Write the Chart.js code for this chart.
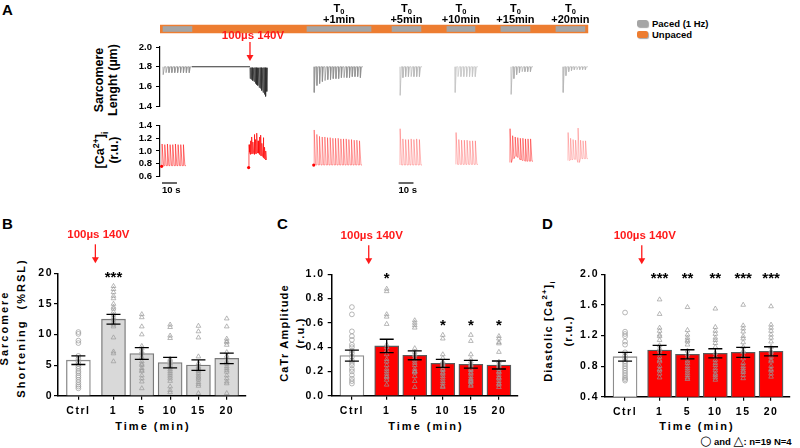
<!DOCTYPE html>
<html lang="en">
<head>
    <title>Sarcomere shortening and Ca transients after a 100µs 140V pulse</title>
    <meta charset="UTF-8">
    <script src="https://cdn.jsdelivr.net/npm/chart.js"></script>
    <style>
        body { margin: 0; width: 800px; height: 448px; position: relative; overflow: hidden; background: #fff;
               font-family: "Liberation Sans", Arial, sans-serif; font-weight: bold; color: #000; }
        canvas, .lbl, .key { position: absolute; }
        .lbl { white-space: nowrap; line-height: 1; }
        .rot { transform: translate(-50%, -50%) rotate(-90deg); text-align: center; }
        .key { width: 11px; height: 7px; border-radius: 2px; box-shadow: 1px 1px 1px rgba(0,0,0,0.35); }
        .panel { font-size: 15px; }
        .time { font-size: 11px; letter-spacing: 2px; transform: translateX(-50%); }
        sub, sup { font-size: 70%; line-height: 0; }
    </style>
</head>
<body>
    <!-- panel letters -->
    <div class="lbl panel" style="left:2px;top:2px">A</div>
    <div class="lbl panel" style="left:2px;top:216px">B</div>
    <div class="lbl panel" style="left:277px;top:216px">C</div>
    <div class="lbl panel" style="left:542px;top:216px">D</div>

    <!-- legend of the protocol bar -->
    <div class="key" style="left:637px;top:20px;background:#a5a5a5"></div>
    <div class="lbl" style="left:652px;top:19px;font-size:9.5px">Paced (1 Hz)</div>
    <div class="key" style="left:637px;top:31px;background:#ed7d31"></div>
    <div class="lbl" style="left:652px;top:30px;font-size:9.5px">Unpaced</div>

    <!-- y titles, panel A -->
    <div class="lbl rot" style="left:106px;top:80px;font-size:12.5px;line-height:14px">Sarcomere<br>Lenght (µm)</div>
    <div class="lbl rot" style="left:107px;top:150px;font-size:12.5px;line-height:14px">[Ca<sup>2+</sup>]<sub>i</sub><br>(r.u.)</div>

    <!-- y titles, panels B-D -->
    <div class="lbl rot" style="left:13px;top:328px;font-size:11px;line-height:17px;letter-spacing:2px">Sarcomere<br>Shortening&nbsp; (%RSL)</div>
    <div class="lbl rot" style="left:292px;top:333px;font-size:11px;line-height:16px;letter-spacing:1.2px">CaTr Amplitude<br>(r.u.)</div>
    <div class="lbl rot" style="left:558px;top:331px;font-size:11px;line-height:20px;letter-spacing:1.2px">Diastolic [Ca<sup>2+</sup>]<sub>i</sub><br>(r.u.)</div>

    <div class="lbl time" style="left:153px;top:421px">Time (min)</div>
    <div class="lbl time" style="left:426px;top:421px">Time (min)</div>
    <div class="lbl time" style="left:697px;top:421px">Time (min)</div>

    <div class="lbl" style="left:700px;top:434px;font-size:9.5px"><span style="font-family:'DejaVu Sans';font-weight:normal;font-size:13px">○</span> and <span style="font-family:'DejaVu Sans';font-weight:normal;font-size:13px">△</span>: n=19 N=4</div>

    <canvas id="protocol" width="490" height="40" style="left:110px;top:0px"></canvas>
    <canvas id="slTrace" width="490" height="88" style="left:110px;top:28px"></canvas>
    <canvas id="caTrace" width="490" height="88" style="left:110px;top:112px"></canvas>
    <canvas id="shortChart" width="222" height="205" style="left:30px;top:215px"></canvas>
    <canvas id="ampChart" width="238" height="205" style="left:286px;top:215px"></canvas>
    <canvas id="diaChart" width="236" height="205" style="left:562px;top:215px"></canvas>

    <script>
        // ---- panel A: protocol (seconds on the trace time axis) ----
        const traceSpan = 286.7;
        const unpacedSpan = [0, 285.3];
        const pacedStart = [2.0, 98.0, 154.7, 191.3, 227.3, 264.0];
        const pacedEnd = [21.3, 140.7, 174.0, 210.0, 246.7, 283.3];
        const pacedLabels = ['', '+1min', '+5min', '+10min', '+15min', '+20min'];
        const pulseTime = 60;
        const scaleBarStart = [1.3, 159.0];
        const scaleBarLen = 10;

        // ---- panel A: sarcomere length traces (µm), one dip per twitch ----
        const slTicks = [1.4, 1.6, 1.8, 2.0];
        const slStart = [2.0, 60.0, 102.7, 160.0, 196.7, 234.0, 268.7];
        const slEnd = [21.3, 72.0, 135.3, 174.7, 212.0, 248.7, 285.3];
        const slRest = [[1.80], [1.79], [1.80], [1.80], [1.80], [1.80], [1.80]];
        const slQuiet = [21.3, 60.0, 1.80];
        const slDips = [
            [1.72, 1.74, 1.74, 1.74, 1.74, 1.74, 1.74, 1.74, 1.74, 1.74],
            [1.68, 1.67, 1.66, 1.65, 1.63, 1.62, 1.61, 1.59, 1.58, 1.56, 1.54, 1.52, 1.50, 1.55],
            [1.54, 1.61, 1.63, 1.65, 1.66, 1.67, 1.67, 1.68, 1.68, 1.68, 1.69, 1.69, 1.69, 1.69, 1.70, 1.70, 1.70, 1.69],
            [1.51, 1.69, 1.70, 1.70, 1.70, 1.70, 1.70, 1.70],
            [1.54, 1.70, 1.70, 1.70, 1.70, 1.70, 1.70, 1.70],
            [1.52, 1.68, 1.72, 1.74, 1.75, 1.75, 1.75, 1.75],
            [1.54, 1.71, 1.75, 1.76, 1.77, 1.77, 1.77, 1.77, 1.77]
        ];

        // ---- panel A: [Ca2+]i traces (r.u.), one peak per twitch ----
        const caTicks = [0.6, 0.8, 1.0, 1.2, 1.4];
        const caStart = [1.3, 59.3, 102.7, 160.0, 197.3, 233.3, 272.0];
        const caEnd = [17.3, 71.3, 134.7, 174.7, 212.0, 248.7, 285.3];
        const caFirst = [0.76, 0.74, 0.78, null, null, null, null];
        const caBase = [
            [0.77],
            [0.98, 0.95, 0.96, 0.97, 0.95, 0.96, 0.98, 0.97, 0.95, 0.93, 0.92, 0.90, 0.88, 0.86],
            [0.78],
            [0.78],
            [0.79],
            [0.82, 0.88, 0.92, 0.90, 0.86, 0.85, 0.84, 0.84, 0.84],
            [0.85, 0.86, 0.87, 0.87, 0.82, 0.88, 0.88, 0.88]
        ];
        const caPeaks = [
            [1.11, 1.10, 1.11, 1.10, 1.10, 1.11, 1.10, 1.10, 1.10],
            [1.10, 1.16, 1.22, 1.14, 1.26, 1.18, 1.28, 1.16, 1.22, 1.25, 1.12, 1.21, 1.06, 1.00],
            [1.33, 1.26, 1.23, 1.22, 1.22, 1.21, 1.21, 1.20, 1.20, 1.20, 1.19, 1.19, 1.19, 1.18, 1.18, 1.17, 1.17, 1.16],
            [1.35, 1.19, 1.18, 1.18, 1.19, 1.18, 1.19, 1.18],
            [1.29, 1.18, 1.17, 1.17, 1.17, 1.16, 1.16, 1.16],
            [1.35, 1.24, 1.22, 1.21, 1.20, 1.20, 1.19, 1.19, 1.19],
            [1.29, 1.20, 1.18, 1.17, 1.36, 1.17, 1.16, 1.16]
        ];

        // ---- panels B-D ----
        const groupLabels = ['Ctrl', '1', '5', '10', '15', '20'];

        const shortMean = [5.8, 12.5, 6.9, 5.4, 5.0, 6.1];
        const shortSem = [0.7, 0.8, 0.95, 0.85, 0.85, 0.85];
        const shortPoints = [
            [10.4, 10.1, 9.0, 8.6, 6.5, 6.0, 5.6, 5.2, 4.8, 4.4, 4.0, 3.7, 3.3, 3.0, 2.6, 2.2, 1.8, 1.5, 1.2],
            [17.9, 17.4, 16.9, 16.3, 15.9, 15.0, 14.5, 14.2, 13.7, 13.2, 12.8, 12.4, 12.0, 11.6, 11.3, 9.5, 7.2, 6.9, 5.6],
            [13.3, 12.8, 11.3, 10.0, 8.1, 7.7, 7.2, 6.9, 6.3, 5.6, 5.2, 5.0, 4.5, 4.2, 4.0, 3.3, 2.8, 2.3, 1.2],
            [11.6, 11.2, 9.8, 9.4, 6.0, 5.8, 5.3, 5.0, 4.6, 4.3, 4.0, 3.7, 3.4, 3.1, 2.8, 2.4, 1.5, 0.9, 0.55],
            [11.4, 10.5, 9.5, 6.4, 5.3, 4.8, 4.6, 4.4, 4.2, 4.0, 3.7, 3.4, 3.1, 2.9, 2.6, 2.2, 1.9, 1.6, 0.4],
            [12.6, 11.3, 9.3, 8.9, 8.7, 8.3, 7.1, 6.5, 5.6, 5.2, 4.8, 4.5, 4.2, 3.9, 3.3, 2.8, 2.3, 2.0, 0.4]
        ];
        const shortStars = ['', '***', '', '', '', ''];
        const shortStarAt = [null, 20, null, null, null, null];

        const ampMean = [0.33, 0.41, 0.333, 0.267, 0.259, 0.253];
        const ampSem = [0.045, 0.055, 0.037, 0.033, 0.032, 0.033];
        const ampPoints = [
            [0.73, 0.67, 0.53, 0.49, 0.46, 0.42, 0.40, 0.37, 0.35, 0.32, 0.29, 0.27, 0.25, 0.22, 0.20, 0.17, 0.14, 0.12, 0.10],
            [0.88, 0.86, 0.67, 0.65, 0.59, 0.42, 0.40, 0.37, 0.34, 0.30, 0.28, 0.25, 0.22, 0.20, 0.18, 0.16, 0.15, 0.13, 0.09],
            [0.62, 0.60, 0.58, 0.56, 0.39, 0.36, 0.34, 0.33, 0.31, 0.29, 0.27, 0.25, 0.22, 0.20, 0.20, 0.19, 0.16, 0.12, 0.07],
            [0.50, 0.47, 0.34, 0.31, 0.28, 0.27, 0.26, 0.25, 0.24, 0.22, 0.21, 0.19, 0.18, 0.16, 0.14, 0.12, 0.10, 0.08, 0.07],
            [0.50, 0.45, 0.34, 0.30, 0.28, 0.26, 0.25, 0.24, 0.22, 0.21, 0.19, 0.18, 0.16, 0.14, 0.13, 0.12, 0.11, 0.09, 0.08],
            [0.49, 0.47, 0.44, 0.43, 0.36, 0.28, 0.26, 0.25, 0.24, 0.22, 0.20, 0.19, 0.17, 0.15, 0.14, 0.12, 0.10, 0.09, 0.07]
        ];
        const ampStars = ['', '*', '', '*', '*', '*'];
        const ampStarAt = [null, 1.0, null, 0.615, 0.615, 0.615];

        const diaMean = [0.923, 1.01, 0.954, 0.967, 0.98, 0.993];
        const diaSem = [0.057, 0.06, 0.06, 0.06, 0.065, 0.06];
        const diaPoints = [
            [1.50, 1.25, 1.22, 1.19, 1.12, 1.08, 0.98, 0.93, 0.90, 0.86, 0.83, 0.80, 0.77, 0.74, 0.71, 0.68, 0.65, 0.63, 0.61],
            [1.67, 1.48, 1.30, 1.26, 1.21, 1.19, 1.14, 1.07, 1.03, 1.00, 0.96, 0.92, 0.88, 0.86, 0.80, 0.76, 0.74, 0.70, 0.65],
            [1.57, 1.27, 1.21, 1.17, 1.14, 1.12, 1.08, 1.00, 0.95, 0.91, 0.87, 0.84, 0.80, 0.77, 0.74, 0.71, 0.68, 0.65, 0.63],
            [1.55, 1.31, 1.26, 1.22, 1.17, 1.14, 1.10, 1.05, 0.97, 0.93, 0.88, 0.84, 0.81, 0.77, 0.74, 0.70, 0.68, 0.65, 0.62],
            [1.60, 1.33, 1.29, 1.25, 1.19, 1.16, 1.11, 1.05, 1.00, 0.98, 0.93, 0.90, 0.84, 0.80, 0.77, 0.74, 0.72, 0.68, 0.64],
            [1.58, 1.34, 1.30, 1.26, 1.21, 1.17, 1.12, 1.05, 1.00, 0.98, 0.95, 0.92, 0.88, 0.86, 0.80, 0.76, 0.74, 0.70, 0.66]
        ];
        const diaStars = ['', '***', '**', '**', '***', '***'];
        const diaStarAt = [null, 2.0, 2.0, 2.0, 2.0, 2.0];

        const pulseLabel = '100µs 140V';
        const FONT = '"Liberation Sans", Arial, sans-serif';

        Chart.defaults.font.family = FONT;
        Chart.defaults.font.weight = 'bold';
        Chart.defaults.color = '#000';

        // red label with a down arrow, arrow tip at (x, tipY)
        function drawPulseArrow(ctx, x, textY, topY, tipY) {
            ctx.save();
            ctx.letterSpacing = '0px';
            ctx.fillStyle = '#ff1a1a';
            ctx.strokeStyle = '#ff1a1a';
            ctx.font = 'bold 11.5px ' + FONT;
            ctx.textAlign = 'center';
            ctx.textBaseline = 'middle';
            ctx.fillText(pulseLabel, x + 3, textY);
            ctx.lineWidth = 1.3;
            ctx.beginPath();
            ctx.moveTo(x, topY);
            ctx.lineTo(x, tipY - 5);
            ctx.stroke();
            ctx.beginPath();
            ctx.moveTo(x - 3.5, tipY - 6);
            ctx.lineTo(x + 3.5, tipY - 6);
            ctx.lineTo(x, tipY);
            ctx.closePath();
            ctx.fill();
            ctx.restore();
        }

        // ---------- protocol bar ----------
        const protocolDatasets = [{
            data: [unpacedSpan],
            backgroundColor: '#ed7d31',
            barThickness: 8,
            grouped: false,
            order: 2
        }].concat(pacedStart.map((s, i) => ({
            data: [[s, pacedEnd[i]]],
            backgroundColor: '#a5a5a5',
            barThickness: 5,
            grouped: false,
            order: 1
        })));

        new Chart(document.getElementById('protocol'), {
            type: 'bar',
            data: { labels: ['run'], datasets: protocolDatasets },
            options: {
                indexAxis: 'y',
                responsive: false,
                animation: false,
                layout: { padding: { top: 23, bottom: 5, left: 50, right: 10 } },
                plugins: { legend: { display: false }, tooltip: { enabled: false } },
                scales: {
                    x: { type: 'linear', display: false, min: 0, max: traceSpan },
                    y: { display: false }
                }
            },
            plugins: [{
                id: 'periodLabels',
                afterDraw(chart) {
                    const { ctx } = chart;
                    const x = chart.scales.x;
                    ctx.save();
                    ctx.fillStyle = '#000';
                    ctx.textBaseline = 'alphabetic';
                    pacedLabels.forEach((lab, i) => {
                        if (!lab) return;
                        const cx = x.getPixelForValue((pacedStart[i] + pacedEnd[i]) / 2);
                        ctx.font = 'bold 11px ' + FONT;
                        const wT = ctx.measureText('T').width;
                        ctx.font = 'bold 7.5px ' + FONT;
                        const w0 = ctx.measureText('0').width;
                        const left = cx - (wT + w0) / 2;
                        ctx.font = 'bold 11px ' + FONT;
                        ctx.textAlign = 'left';
                        ctx.fillText('T', left, 12);
                        ctx.font = 'bold 7.5px ' + FONT;
                        ctx.fillText('0', left + wT, 14);
                        ctx.font = 'bold 11px ' + FONT;
                        ctx.textAlign = 'center';
                        ctx.fillText(lab, cx, 23);
                    });
                    ctx.restore();
                }
            }]
        });

        // ---------- traces ----------
        function twitchTrace(t0, t1, rest, amp, upAt, downFrac) {
            const dt = (t1 - t0) / amp.length;
            const pts = [];
            amp.forEach((a, i) => {
                const t = t0 + i * dt;
                const b = rest[Math.min(i, rest.length - 1)];
                pts.push({ x: t, y: b }, { x: t + upAt, y: a }, { x: t + dt * downFrac, y: b });
            });
            pts.push({ x: t1, y: rest[rest.length - 1] });
            return pts;
        }

        function traceChart(id, datasets, ticks, padTop, padBottom, extra) {
            return new Chart(document.getElementById(id), {
                type: 'line',
                data: { datasets: datasets },
                options: {
                    responsive: false,
                    animation: false,
                    layout: { padding: { top: padTop, bottom: padBottom, left: 0, right: 10 } },
                    plugins: { legend: { display: false }, tooltip: { enabled: false } },
                    elements: { point: { radius: 0 }, line: { borderWidth: 0.7, tension: 0 } },
                    scales: {
                        x: { type: 'linear', display: false, min: 0, max: traceSpan },
                        y: {
                            min: ticks[0], max: ticks[ticks.length - 1],
                            afterFit: s => { s.width = 50; },
                            afterBuildTicks: s => { s.ticks = ticks.map(v => ({ value: v })); },
                            ticks: { autoSkip: false, padding: 4, font: { size: 9.5, weight: 'bold' },
                                     callback: v => v.toFixed(1) },
                            grid: { drawOnChartArea: false, tickLength: 4, color: '#000', lineWidth: 1 },
                            border: { color: '#000', width: 1.2 }
                        }
                    }
                },
                plugins: [extra]
            });
        }

        const slColors = ['#8c8c8c', '#2a2a2a', '#8c8c8c', '#b3b3b3', '#c6c6c6', '#aaaaaa', '#b5b5b5'];
        const slDatasets = slDips.map((d, i) => ({
            data: twitchTrace(slStart[i], slEnd[i], slRest[i], d, 0.12, 0.5),
            borderColor: slColors[i]
        }));
        slDatasets.push({
            data: [{ x: slQuiet[0], y: slQuiet[2] }, { x: slQuiet[1], y: slQuiet[2] }],
            borderColor: '#333',
            borderWidth: 1.1
        });

        traceChart('slTrace', slDatasets, slTicks, 19, 8, {
            id: 'pulseMark',
            afterDraw(chart) {
                const px = chart.scales.x.getPixelForValue(pulseTime);
                const top = chart.chartArea.top;
                drawPulseArrow(chart.ctx, px, top - 11, top - 5, top + 14);
            }
        });

        const caColors = ['rgba(255,0,0,0.75)', '#ff0000', 'rgba(255,0,0,0.55)', 'rgba(255,0,0,0.4)',
                          'rgba(255,0,0,0.4)', 'rgba(255,0,0,0.65)', 'rgba(255,0,0,0.35)'];
        const caDatasets = caPeaks.map((p, i) => {
            const pts = twitchTrace(caStart[i], caEnd[i], caBase[i], p, 0.1, 0.6);
            if (caFirst[i] !== null) pts.unshift({ x: caStart[i] - 0.2, y: caFirst[i] });
            return {
                data: pts,
                borderColor: caColors[i],
                pointRadius: c => (caFirst[i] !== null && c.dataIndex === 0 ? 1.6 : 0),
                pointBackgroundColor: '#ff0000',
                pointBorderWidth: 0
            };
        });

        traceChart('caTrace', caDatasets, caTicks, 13.5, 23.5, {
            id: 'scaleBars',
            afterDraw(chart) {
                const { ctx, chartArea } = chart;
                const x = chart.scales.x;
                ctx.save();
                ctx.strokeStyle = '#000';
                ctx.fillStyle = '#000';
                ctx.lineWidth = 1.2;
                ctx.font = 'bold 9.5px ' + FONT;
                ctx.textAlign = 'left';
                ctx.textBaseline = 'middle';
                scaleBarStart.forEach(s => {
                    const a = x.getPixelForValue(s), b = x.getPixelForValue(s + scaleBarLen);
                    const yy = chartArea.bottom + 6.5;
                    ctx.beginPath();
                    ctx.moveTo(a, yy);
                    ctx.lineTo(b, yy);
                    ctx.stroke();
                    ctx.fillText('10 s', a, yy + 7);
                });
                ctx.restore();
            }
        });

        // ---------- bar + scatter panels ----------
        const CTRL_GAP = 1.24;
        const xAt = i => (i === 0 ? 0 : CTRL_GAP + i - 1);

        function groupPanel(id, p) {
            const bars = {
                type: 'bar',
                data: p.mean.map((m, i) => ({ x: xAt(i), y: m })),
                backgroundColor: p.mean.map((m, i) => (i === 0 ? '#ffffff' : p.fill)),
                borderColor: p.mean.map((m, i) => (i === 0 ? '#8c8c8c' : p.edge)),
                borderWidth: 1.3,
                barThickness: 24,
                order: 3
            };
            const dots = p.points.map((vals, i) => ({
                type: 'scatter',
                data: vals.map(v => ({ x: xAt(i), y: v })),
                pointStyle: i === 0 ? 'circle' : 'triangle',
                pointRadius: i === 0 ? 2.4 : 2.7,
                pointBorderColor: '#9a9a9a',
                pointBackgroundColor: 'rgba(0,0,0,0)',
                pointBorderWidth: 0.7,
                order: 2
            }));

            return new Chart(document.getElementById(id), {
                type: 'bar',
                data: { datasets: [bars].concat(dots) },
                options: {
                    responsive: false,
                    animation: false,
                    layout: { padding: p.pad },
                    plugins: { legend: { display: false }, tooltip: { enabled: false } },
                    scales: {
                        x: {
                            type: 'linear', offset: false, min: -0.72, max: 5.92,
                            afterBuildTicks: s => { s.ticks = p.mean.map((m, i) => ({ value: xAt(i) })); },
                            afterFit: s => { s.height = 20; },
                            ticks: { autoSkip: false, maxRotation: 0, padding: 5,
                                     font: { size: 10.5, weight: 'bold' },
                                     callback: (v, i) => groupLabels[i] },
                            grid: { offset: false, drawOnChartArea: false, tickLength: 4, color: '#000', lineWidth: 1.2 },
                            border: { color: '#000', width: 1.5 }
                        },
                        y: {
                            min: p.min, max: p.max,
                            afterFit: s => { s.width = p.yWidth; },
                            ticks: { stepSize: p.step, autoSkip: false, padding: p.tickPad,
                                     font: { size: 10.5, weight: 'bold' },
                                     callback: v => (p.step < 1 ? v.toFixed(1) : String(v)) },
                            grid: { drawOnChartArea: false, tickLength: 4, color: '#000', lineWidth: 1.2 },
                            border: { color: '#000', width: 1.5 }
                        }
                    }
                },
                plugins: [{
                    id: 'spacedText',
                    beforeDraw(chart) { chart.ctx.letterSpacing = '1.5px'; }
                }, {
                    id: 'semAndStars',
                    afterDatasetsDraw(chart) {
                        const { ctx, chartArea } = chart;
                        const x = chart.scales.x, y = chart.scales.y;
                        ctx.save();
                        ctx.letterSpacing = '0px';
                        ctx.strokeStyle = '#000';
                        ctx.lineWidth = 1.3;
                        p.mean.forEach((m, i) => {
                            const px = x.getPixelForValue(xAt(i));
                            const hi = y.getPixelForValue(m + p.sem[i]);
                            const lo = y.getPixelForValue(m - p.sem[i]);
                            ctx.beginPath();
                            ctx.moveTo(px, hi); ctx.lineTo(px, lo);
                            ctx.moveTo(px - 7, hi); ctx.lineTo(px + 7, hi);
                            ctx.moveTo(px - 7, lo); ctx.lineTo(px + 7, lo);
                            ctx.stroke();
                        });
                        ctx.fillStyle = '#000';
                        ctx.font = 'bold 15px ' + FONT;
                        ctx.textAlign = 'center';
                        ctx.textBaseline = 'alphabetic';
                        p.stars.forEach((s, i) => {
                            if (!s) return;
                            ctx.fillText(s, x.getPixelForValue(xAt(i)), y.getPixelForValue(p.starAt[i]) + 9);
                        });
                        ctx.restore();
                        const ax = x.getPixelForValue(0.6);
                        drawPulseArrow(ctx, ax, chartArea.top - 38, chartArea.top - 29, chartArea.top - 10);
                    }
                }]
            });
        }

        groupPanel('shortChart', {
            mean: shortMean, sem: shortSem, points: shortPoints, stars: shortStars, starAt: shortStarAt,
            min: 0, max: 20, step: 5, fill: '#d9d9d9', edge: '#7a7a7a',
            yWidth: 28, tickPad: 1, pad: { top: 58.3, bottom: 4.3, left: 0, right: 6 }
        });
        groupPanel('ampChart', {
            mean: ampMean, sem: ampSem, points: ampPoints, stars: ampStars, starAt: ampStarAt,
            min: 0, max: 1.0, step: 0.2, fill: '#ff0000', edge: '#5a5a5a',
            yWidth: 45.7, tickPad: 3, pad: { top: 59.3, bottom: 4.3, left: 0, right: 6 }
        });
        groupPanel('diaChart', {
            mean: diaMean, sem: diaSem, points: diaPoints, stars: diaStars, starAt: diaStarAt,
            min: 0.4, max: 2.0, step: 0.4, fill: '#ff0000', edge: '#5a5a5a',
            yWidth: 43, tickPad: 2, pad: { top: 59.3, bottom: 3.3, left: 0, right: 8 }
        });
    </script>
</body>
</html>
